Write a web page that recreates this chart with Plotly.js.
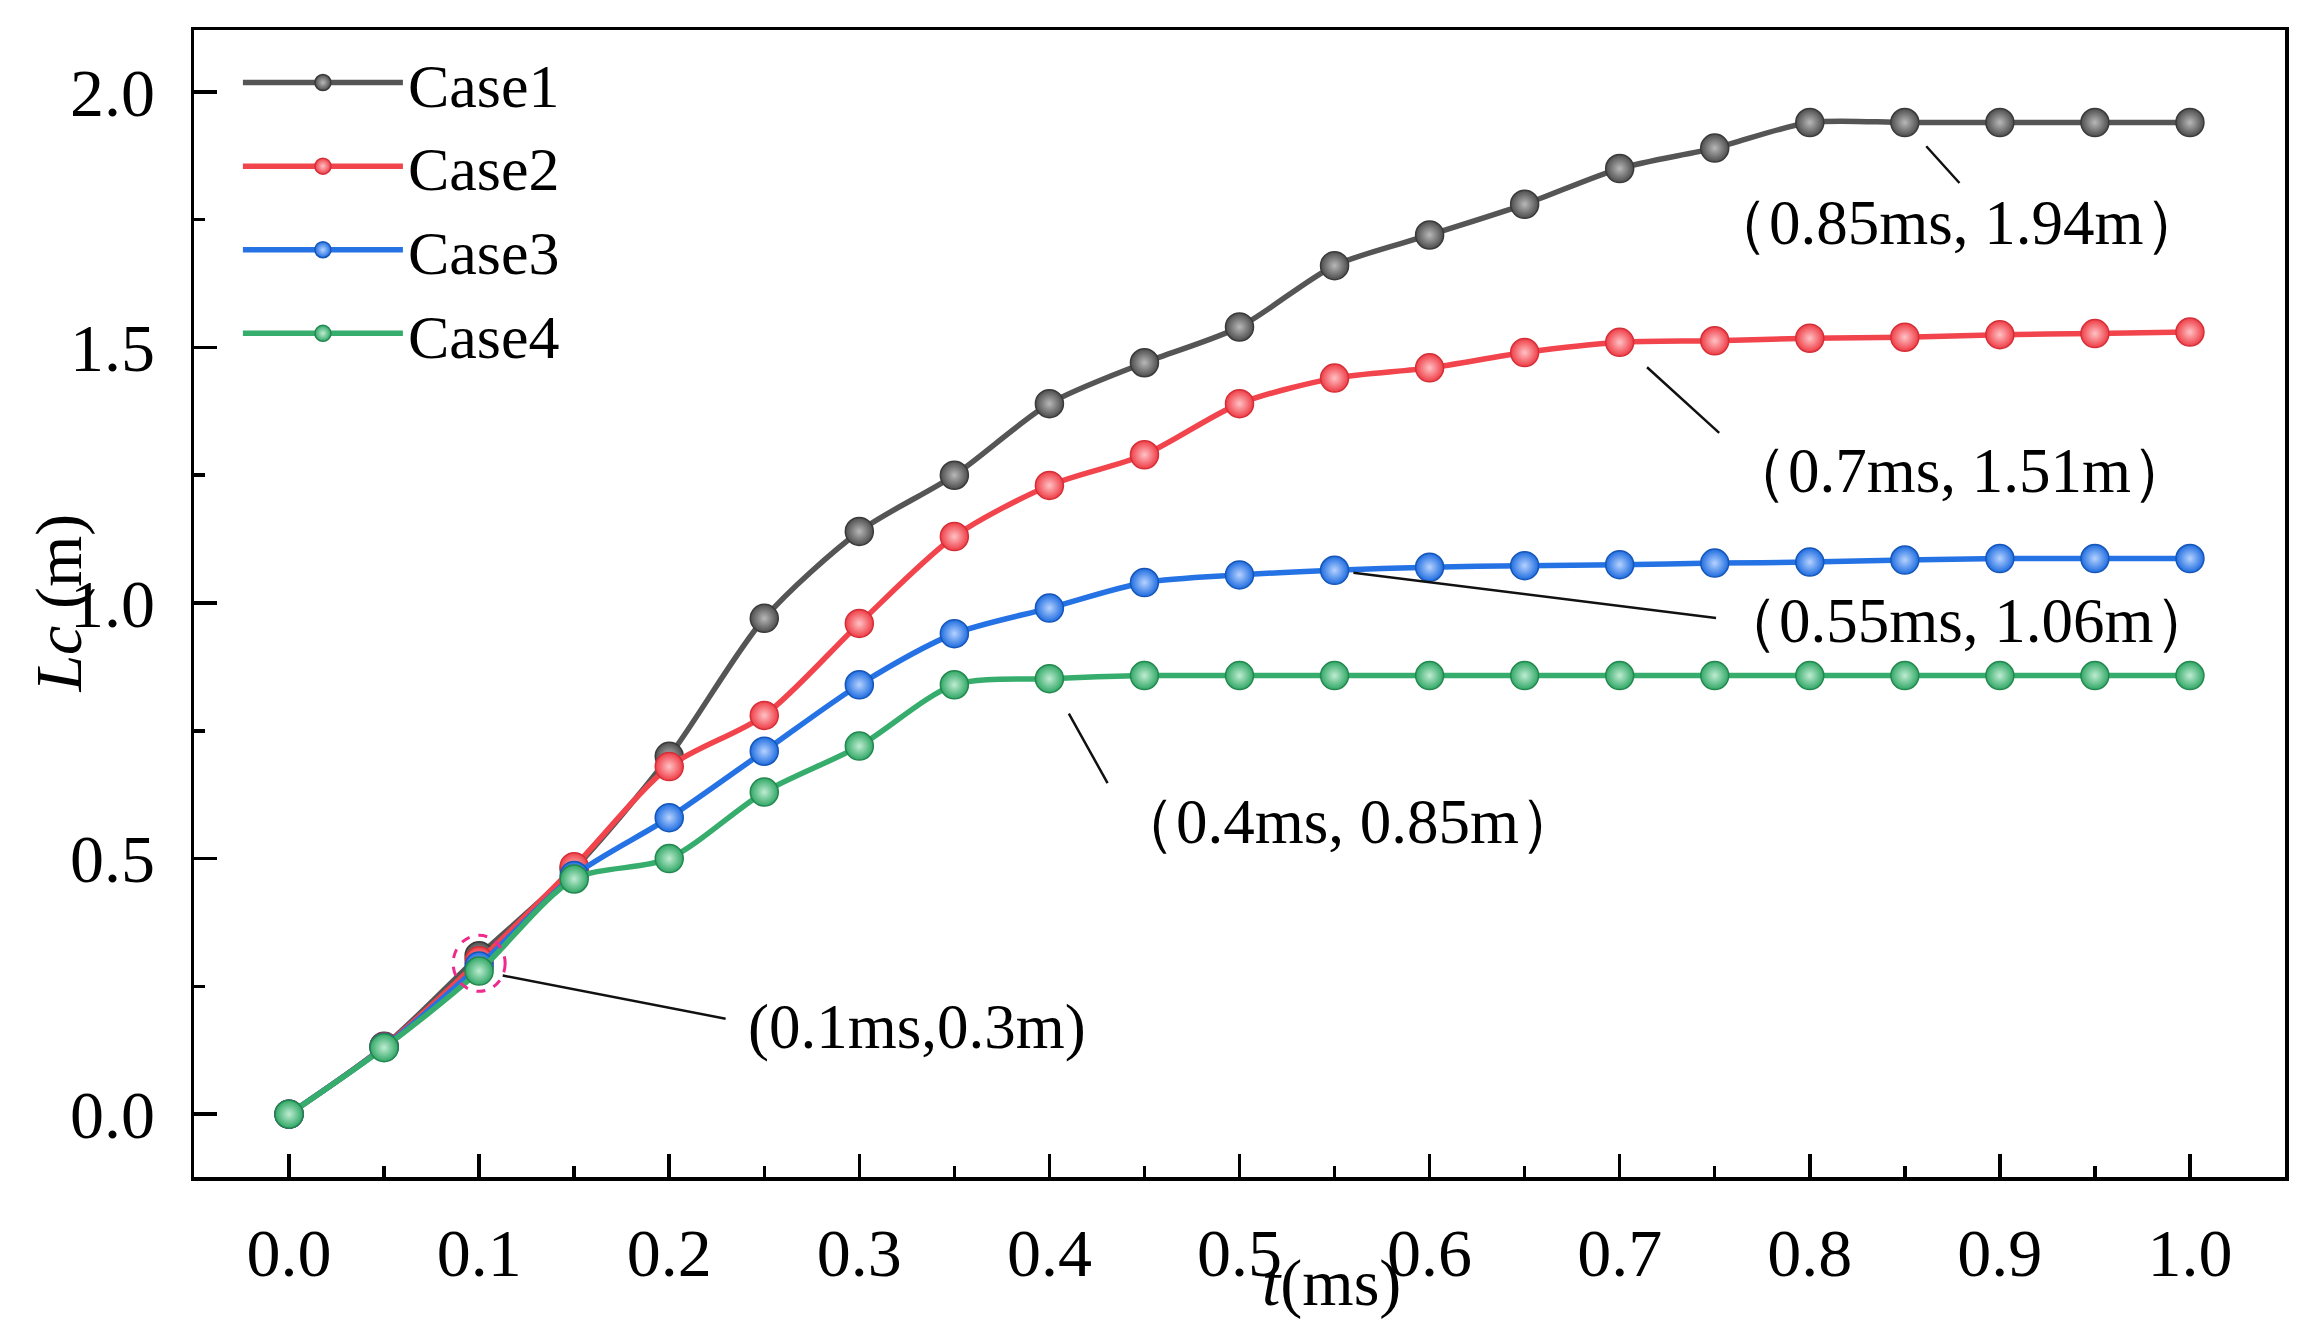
<!DOCTYPE html>
<html>
<head>
<meta charset="utf-8">
<script src="https://cdn.plot.ly/plotly-3.0.1.min.js"></script>
<style>
  html, body { margin: 0; padding: 0; background: #fff; }
  #chart { width: 2318px; height: 1335px; }
</style>
</head>
<body>
<div id="chart"></div>
<script>
// time steps (ms)
const tMs = [0, 0.05, 0.1, 0.15, 0.2, 0.25, 0.3, 0.35, 0.4, 0.45, 0.5,
	0.55, 0.6, 0.65, 0.7, 0.75, 0.8, 0.85, 0.9, 0.95, 1.0];

// Lc (m) for each case
const case1 = [0, 0.133, 0.31, 0.48, 0.70, 0.97, 1.14, 1.25, 1.39, 1.47, 1.54,
	1.66, 1.72, 1.78, 1.85, 1.89, 1.94, 1.94, 1.94, 1.94, 1.94];
const case2 = [0, 0.132, 0.30, 0.484, 0.68, 0.78, 0.96, 1.13, 1.23, 1.29, 1.39,
	1.44, 1.46, 1.49, 1.51, 1.513, 1.518, 1.52, 1.525, 1.527, 1.53];
const case3 = [0, 0.131, 0.29, 0.467, 0.58, 0.71, 0.84, 0.94, 0.99, 1.04, 1.055,
	1.064, 1.07, 1.073, 1.075, 1.078, 1.08, 1.084, 1.087, 1.087, 1.087];
const case4 = [0, 0.13, 0.28, 0.46, 0.50, 0.63, 0.72, 0.84, 0.852, 0.858, 0.858,
	0.858, 0.858, 0.858, 0.858, 0.858, 0.858, 0.858, 0.858, 0.858, 0.858];

const caseNames = ["Case1", "Case2", "Case3", "Case4"];

// callout labels: index into tMs, which case, text
const callouts = [
	{ idx: 17, series: case1, text: "（0.85ms, 1.94m）" },
	{ idx: 14, series: case2, text: "（0.7ms, 1.51m）" },
	{ idx: 11, series: case3, text: "（0.55ms, 1.06m）" },
	{ idx: 8, series: case4, text: "（0.4ms, 0.85m）" },
	{ idx: 2, series: case4, text: "(0.1ms,0.3m)" },
];

const FONT = "Liberation Serif, Times New Roman, serif";

const styles = [
	{ line: "#555555", fill: "#4d4d4d", edge: "#3a3a3a", glow: "#b8b8b8" },
	{ line: "#f2444c", fill: "#ef3d46", edge: "#d42f38", glow: "#ffc2c5" },
	{ line: "#2572e4", fill: "#1f6de0", edge: "#1656b8", glow: "#b6d2ff" },
	{ line: "#36ad6c", fill: "#31a866", edge: "#23874f", glow: "#bfecd2" },
];

const traces = [case1, case2, case3, case4].map((ys, i) => ({
	type: "scatter",
	mode: "lines+markers",
	name: caseNames[i],
	x: tMs,
	y: ys,
	line: { color: styles[i].line, width: 5.5, shape: "spline", smoothing: 0.8 },
	marker: {
		size: 28,
		color: styles[i].fill,
		line: { color: styles[i].edge, width: 1.5 },
		gradient: { type: "radial", color: styles[i].glow },
	},
}));

// text offsets (px) from the labelled point, and leader line geometry
const textShift = [[52, -100], [340, -129], [632, -51], [298, -143], [438, -56]];
const leader = [
	{ ax: 56, ay: 62, standoff: 32 },
	{ ax: 101, ay: 92, standoff: 37 },
	{ ax: 383, ay: 48, standoff: 19 },
	{ ax: 59, ay: 106, standoff: 40 },
	{ ax: 248, ay: 48, standoff: 24 },
];

const annotations = [];
callouts.forEach((c, i) => {
	const px = tMs[c.idx];
	const py = c.series[c.idx];
	annotations.push({
		x: px, y: py, xref: "x", yref: "y",
		text: c.text, showarrow: false,
		xshift: textShift[i][0], yshift: textShift[i][1],
		xanchor: "center", yanchor: "middle",
		font: { family: FONT, size: 63, color: "#000" },
	});
	annotations.push({
		x: px, y: py, xref: "x", yref: "y",
		text: "", showarrow: true, arrowhead: 0, arrowwidth: 2.5,
		arrowcolor: "#111", ax: leader[i].ax, ay: leader[i].ay,
		standoff: leader[i].standoff,
	});
});

// axis titles
annotations.push({
	xref: "paper", yref: "paper", x: 0.5438, y: -0.092,
	xanchor: "center", yanchor: "middle", showarrow: false,
	text: "<i>t</i>(ms)",
	font: { family: FONT, size: 66, color: "#000" },
});
annotations.push({
	xref: "paper", yref: "paper", x: -0.065, y: 0.5,
	xanchor: "center", yanchor: "middle", showarrow: false, textangle: -90,
	text: "<i>Lc</i> (m)",
	font: { family: FONT, size: 66, color: "#000" },
});

// dashed ring around the shared point at 0.1 ms
const ringIdx = 2;
const ringY = (case1[ringIdx] + case2[ringIdx] + case3[ringIdx] + case4[ringIdx]) / 4;
const shapes = [{
	type: "circle", xref: "x", yref: "y",
	xsizemode: "pixel", ysizemode: "pixel",
	xanchor: tMs[ringIdx], yanchor: ringY,
	x0: -26, x1: 26, y0: -28, y1: 28,
	line: { color: "#ee2a8c", width: 3, dash: "dash" },
}];

const axisCommon = {
	showgrid: false, zeroline: false,
	showline: true, linecolor: "#000", linewidth: 3.5, mirror: true,
	ticks: "inside", ticklen: 23, tickwidth: 3.5, tickcolor: "#000",
	tickformat: ".1f",
	tickfont: { family: FONT, size: 68, color: "#000" },
};

const layout = {
	width: 2318, height: 1335,
	margin: { l: 194, r: 33, t: 30, b: 158 },
	paper_bgcolor: "#fff", plot_bgcolor: "#fff",
	font: { family: FONT, color: "#000" },
	xaxis: Object.assign({}, axisCommon, {
		range: [-0.05, 1.05], dtick: 0.1, tick0: 0,
		ticklabelstandoff: 14,
		minor: { dtick: 0.05, ticks: "inside", ticklen: 11, tickwidth: 3.5, tickcolor: "#000" },
	}),
	yaxis: Object.assign({}, axisCommon, {
		range: [-0.123, 2.121], dtick: 0.5, tick0: 0,
		ticklabelstandoff: 22,
		minor: { dtick: 0.25, ticks: "inside", ticklen: 11, tickwidth: 3.5, tickcolor: "#000" },
	}),
	showlegend: true,
	legend: {
		x: 0.021, y: 0.995, xanchor: "left", yanchor: "top",
		bgcolor: "rgba(0,0,0,0)", borderwidth: 0,
		itemwidth: 160,
		font: { family: FONT, size: 62, color: "#000" },
	},
	annotations: annotations,
	shapes: shapes,
};

Plotly.newPlot("chart", traces, layout, { displayModeBar: false, staticPlot: true });
</script>
</body>
</html>
